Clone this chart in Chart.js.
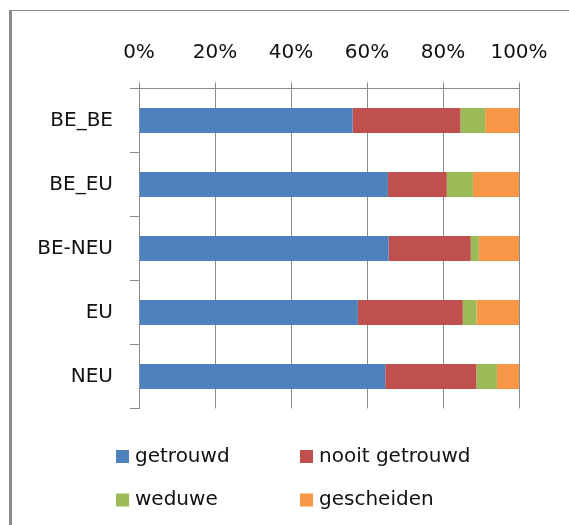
<!DOCTYPE html>
<html>
<head>
<meta charset="utf-8">
<script src="https://cdn.jsdelivr.net/npm/chart.js@4"></script>
<style>
  body { margin: 0; background: #fff; }
  #wrap { position: relative; width: 569px; height: 525px; overflow: hidden; }
  #frame { position: absolute; left: 9px; top: 10px; width: 700px; height: 700px;
           border-left: 3px solid #8c8c8c; border-top: 1px solid #8c8c8c; }
  canvas { position: absolute; left: 0; top: 0; }
</style>
</head>
<body>
<div id="wrap">
  <div id="frame"></div>
  <canvas id="grafico" width="569" height="525"></canvas>
</div>
<script>
const categorieen = ['BE_BE', 'BE_EU', 'BE-NEU', 'EU', 'NEU'];
const getrouwd = [56.2, 65.5, 65.7, 57.6, 64.8];
const nooitGetrouwd = [28.4, 15.5, 21.6, 27.6, 24.0];
const weduwe = [6.5, 6.9, 2.1, 3.6, 5.4];
const gescheiden = [8.9, 12.1, 10.6, 11.2, 5.8];
const xTicks = [0, 20, 40, 60, 80, 100];

const lettertype = '"DejaVu Sans", sans-serif';
const grijs = '#8c8c8c';

// legenda in twee kolommen onder de grafiek
const legendaPlugin = {
  id: 'legenda',
  afterDraw(chart) {
    const ctx = chart.ctx;
    const kolommen = [116, 300];
    const rijen = [456.5, 500];
    ctx.save();
    ctx.font = '20px ' + lettertype;
    ctx.textBaseline = 'middle';
    ctx.textAlign = 'left';
    chart.data.datasets.forEach((ds, i) => {
      const x = kolommen[i % 2];
      const y = rijen[Math.floor(i / 2)];
      ctx.fillStyle = ds.backgroundColor;
      ctx.fillRect(x, y - 6.5, 13, 13);
      ctx.fillStyle = '#111';
      ctx.fillText(ds.label, x + 19, y);
    });
    ctx.restore();
  }
};

new Chart(document.getElementById('grafico'), {
  type: 'bar',
  data: {
    labels: categorieen,
    datasets: [
      { label: 'getrouwd', data: getrouwd, backgroundColor: '#4F81BD' },
      { label: 'nooit getrouwd', data: nooitGetrouwd, backgroundColor: '#C0504D' },
      { label: 'weduwe', data: weduwe, backgroundColor: '#9BBB59' },
      { label: 'gescheiden', data: gescheiden, backgroundColor: '#F79646' }
    ]
  },
  options: {
    indexAxis: 'y',
    responsive: false,
    animation: false,
    layout: { padding: { left: 0, right: 50, top: 0, bottom: 116.6 } },
    datasets: { bar: { barPercentage: 0.39, categoryPercentage: 1 } },
    plugins: { legend: { display: false }, tooltip: { enabled: false } },
    scales: {
      x: {
        position: 'top',
        stacked: true,
        min: 0,
        max: 100,
        afterBuildTicks: s => { s.ticks = xTicks.map(v => ({ value: v })); },
        afterFit: s => { s.height = 88.4; },
        grid: { color: grijs, lineWidth: 1, tickLength: 6 },
        border: { display: true, color: grijs, width: 1 },
        ticks: { padding: 18, color: '#111', font: { family: lettertype, size: 20 },
                 callback: v => v + '%' }
      },
      y: {
        stacked: true,
        afterFit: s => { s.width = 139; },
        grid: { drawOnChartArea: false, color: grijs, tickLength: 9, offset: true },
        border: { display: true, color: grijs, width: 1 },
        ticks: { padding: 17, color: '#111', font: { family: lettertype, size: 20 } }
      }
    }
  },
  plugins: [legendaPlugin]
});
</script>
</body>
</html>
